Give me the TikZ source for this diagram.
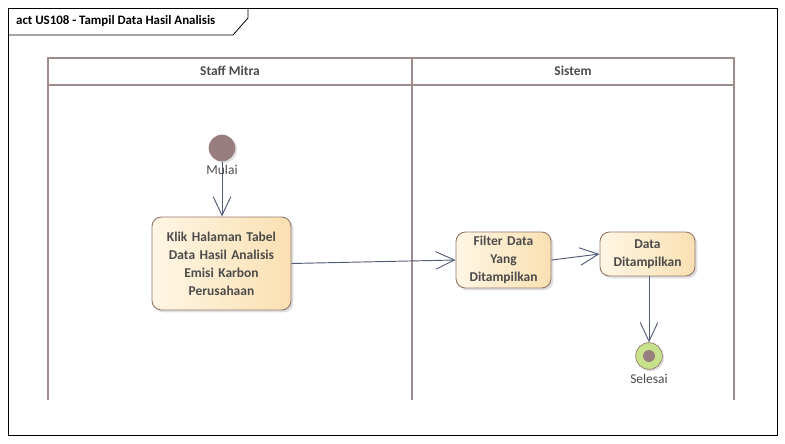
\documentclass[tikz,border=0pt]{standalone}
\usepackage{fontspec}
\setmainfont{Carlito}
\usetikzlibrary{arrows.meta,shadows}
\definecolor{lanegray}{RGB}{158,140,140}
\definecolor{flowblue}{RGB}{82,92,120}
\definecolor{boxedge}{RGB}{150,120,110}
\definecolor{boxlight}{RGB}{255,246,228}
\definecolor{boxdark}{RGB}{250,224,178}
\definecolor{startbrown}{RGB}{152,126,126}
\definecolor{endgreen}{RGB}{200,226,140}
\definecolor{txtgray}{RGB}{75,75,75}
\begin{document}
\begin{tikzpicture}[x=0.03cm,y=-0.03cm,>={Straight Barb[length=16pt,width=15pt]}]
\tikzset{
    action/.style={draw=boxedge,line width=0.8pt,rounded corners=8pt,left color=boxlight,right color=boxdark,align=center,text=txtgray,font=\fontsize{11.5}{15.3}\bfseries\selectfont,drop shadow={shadow xshift=2pt,shadow yshift=-2pt,opacity=0.25}},
    lane/.style={draw=lanegray,line width=2pt},
    hdr/.style={font=\fontsize{11.5}{13}\bfseries\selectfont,text=txtgray},
    lbl/.style={font=\fontsize{11.5}{13}\selectfont,text=txtgray},
    flow/.style={->,draw=flowblue,line width=0.8pt}
}
\useasboundingbox (0,0) rectangle (785,443);
% frame and title tab
\draw[line width=0.7pt] (8,8) rectangle (777,435);
\draw[line width=0.7pt] (8,35) -- (233,35) -- (248,18) -- (248,8);
\node[anchor=west,font=\fontsize{11}{13}\bfseries\selectfont] (title) at (12,21) {act US108 - Tampil Data Hasil Analisis};

% swimlanes
\draw[lane] (48,400) -- (48,58) -- (734,58) -- (734,400);
\draw[lane] (48,85) -- (734,85);
\draw[lane] (412,58) -- (412,400);
\node[hdr] (staffHdr) at (230,71) {Staff Mitra};
\node[hdr] (sistemHdr) at (573,71) {Sistem};

% start
\node[circle,fill=startbrown,minimum size=0.8cm,inner sep=0pt,drop shadow={shadow xshift=1.5pt,shadow yshift=-1.5pt,opacity=0.25}] (start) at (222,148) {};
\node[lbl] (mulaiLbl) at (222,170) {Mulai};

% actions
\node[action,minimum width=4.17cm,minimum height=2.79cm,text width=3.9cm] (klik) at (221.5,263.5) {Klik Halaman Tabel\\Data Hasil Analisis\\Emisi Karbon\\Perusahaan};
\node[action,minimum width=2.85cm,minimum height=1.68cm,text width=2.6cm] (filter) at (503.5,260) {Filter Data\\Yang\\Ditampilkan};
\node[action,minimum width=2.85cm,minimum height=1.32cm,text width=2.6cm] (tampil) at (647.5,254) {Data\\Ditampilkan};

% end
\node[circle,draw=boxedge,line width=0.6pt,fill=endgreen,minimum size=0.8cm,inner sep=0pt,drop shadow={shadow xshift=1.5pt,shadow yshift=-1.5pt,opacity=0.25}] (finish) at (649,356) {};
\fill[startbrown] (finish.center) circle (6);
\node[lbl] (selesaiLbl) at (649,379) {Selesai};

% flows
\draw[flow] (start) -- (start |- klik.north);
\draw[flow] (klik.east) -- (filter.west);
\draw[flow] (filter.east) -- (tampil.west);
\draw[flow] (finish |- tampil.south) -- (finish);
\end{tikzpicture}
\end{document}
